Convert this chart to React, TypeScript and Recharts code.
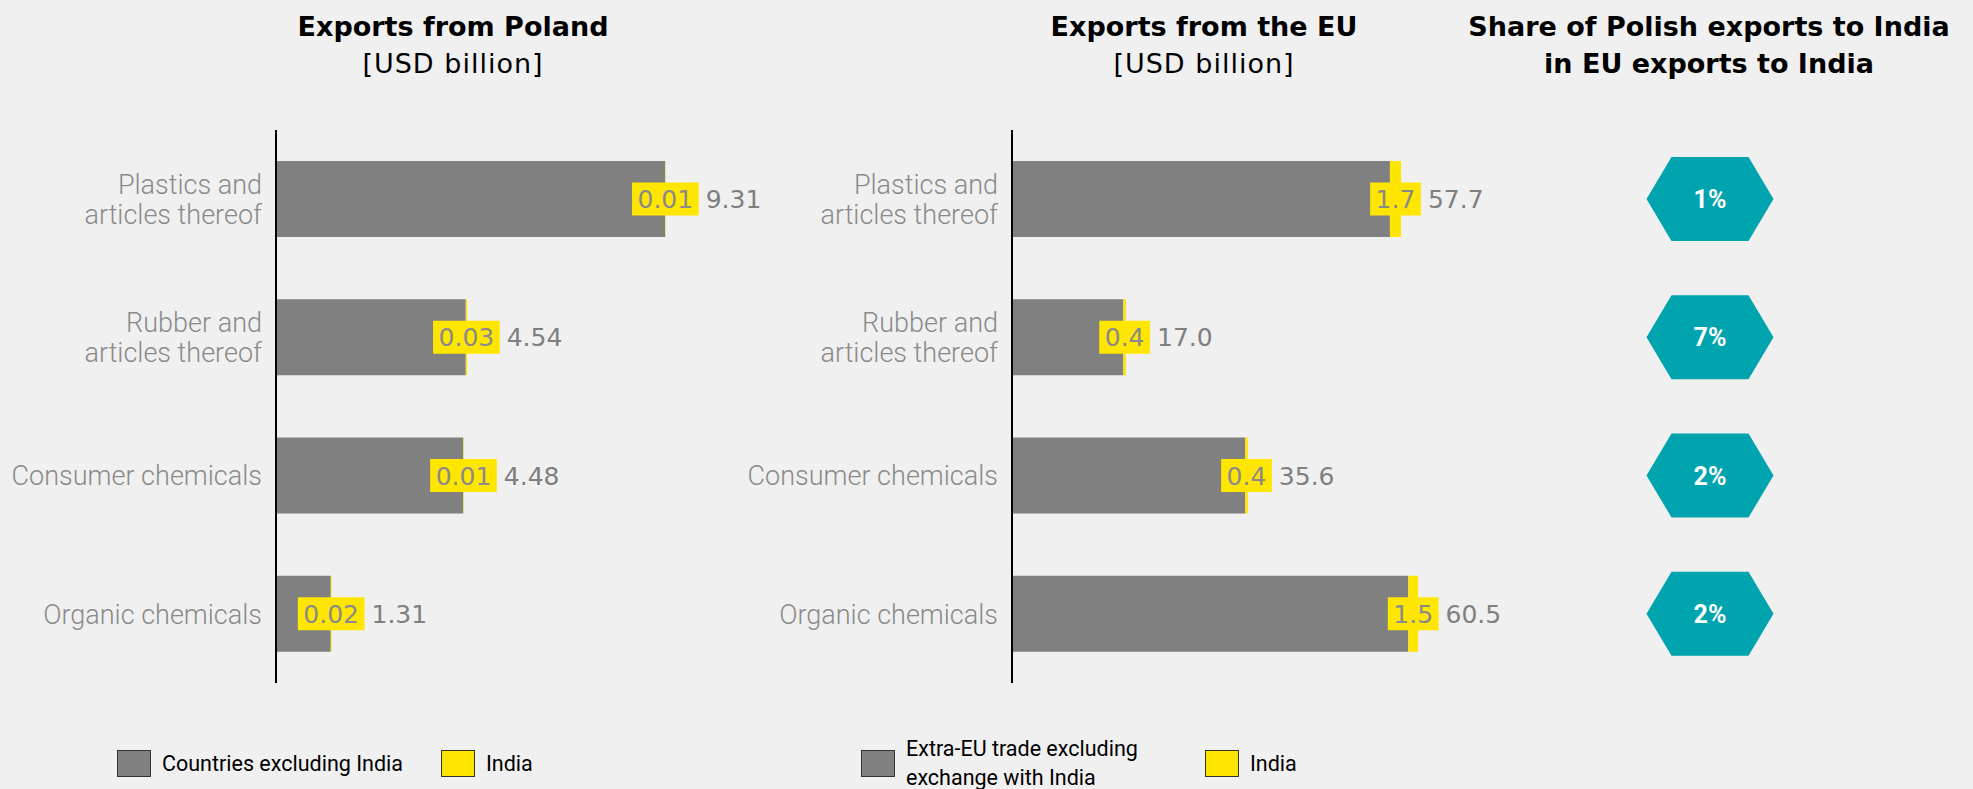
import { BarChart, Bar, XAxis, YAxis } from "recharts";

const categories = [
  "Plastics and\narticles thereof",
  "Rubber and\narticles thereof",
  "Consumer chemicals",
  "Organic chemicals"
];

const polandOther = [9.31, 4.54, 4.48, 1.31];
const polandIndia = [0.01, 0.03, 0.01, 0.02];
const euOther = [57.7, 17.0, 35.6, 60.5];
const euIndia = [1.7, 0.4, 0.4, 1.5];
const polishShare = [1, 7, 2, 2];

const GRAY = "#808080";
const YELLOW = "#FFE600";
const TEAL = "#00A4AE";
const BG = "#F0F0F0";

const polandRows = categories.map((cat, i) => ({ cat, other: polandOther[i], india: polandIndia[i] }));
const euRows = categories.map((cat, i) => ({ cat, other: euOther[i], india: euIndia[i] }));
const shareRows = categories.map((cat, i) => ({ cat, share: polishShare[i] }));

// rough DejaVu Sans advance widths, used to size the yellow label boxes
const textWidth = (s: string, fs: number) =>
  s.split("").reduce((w, ch) => w + (ch === "." ? 0.318 : 0.636), 0) * fs;

function CategoryTick(props: any) {
  const { x, y, payload } = props;
  const lines = String(payload.value).split("\n");
  const lh = 30;
  const start = -((lines.length - 1) * lh) / 2;
  return (
    <text x={x} y={y} textAnchor="end" fill="#8A8A8A" fontFamily="Roboto" fontSize={27} fontWeight={300}>
      {lines.map((l, i) => (
        <tspan key={i} x={x} y={y + start + i * lh} dy="0.36em">
          {l}
        </tspan>
      ))}
    </text>
  );
}

function indiaShape(rows: any[], decimals: number) {
  return (props: any) => {
    const { x, y, width, height, index } = props;
    const row = props.payload ?? rows[index];
    const fs = 25;
    const india = row.india.toFixed(decimals);
    const other = row.other.toFixed(decimals);
    const cx = x + width / 2;
    const cy = y + height / 2;
    const boxW = textWidth(india, fs) + 11;
    const boxH = 33;
    const boxR = cx + boxW / 2;
    return (
      <g>
        <rect x={x} y={y} width={Math.max(width, 0)} height={height} fill={YELLOW} />
        <rect x={cx - boxW / 2} y={cy - boxH / 2} width={boxW} height={boxH} fill={YELLOW} />
        <text x={cx} y={cy + fs * 0.36} textAnchor="middle" fill="#8A8A8A" fontFamily="DejaVu Sans" fontSize={fs}>
          {india}
        </text>
        <text x={boxR + 7} y={cy + fs * 0.36} textAnchor="start" fill="#7F7F7F" fontFamily="DejaVu Sans" fontSize={fs}>
          {other}
        </text>
      </g>
    );
  };
}

function HexShape(props: any) {
  const { y, height, payload, background } = props;
  const cx = background ? background.x + background.width / 2 : 190;
  const cy = background ? background.y + background.height / 2 : y + height / 2;
  const hw = 63.5;
  const hh = 42;
  const inset = 25;
  const pts = [
    [cx - hw, cy],
    [cx - hw + inset, cy - hh],
    [cx + hw - inset, cy - hh],
    [cx + hw, cy],
    [cx + hw - inset, cy + hh],
    [cx - hw + inset, cy + hh]
  ]
    .map((p) => p.join(","))
    .join(" ");
  return (
    <g>
      <polygon points={pts} fill={TEAL} />
      <text x={cx} y={cy + 9} textAnchor="middle" fill="#fff" fontFamily="Roboto" fontWeight={700} fontSize={25}>
        {payload.share}%
      </text>
    </g>
  );
}

const titleStyle: React.CSSProperties = {
  position: "absolute",
  top: 8,
  width: 600,
  textAlign: "center",
  fontFamily: "DejaVu Sans",
  fontSize: 27,
  lineHeight: "37px",
  color: "#000"
};

function Title({ cx, lines }: { cx: number; lines: [string, boolean][] }) {
  return (
    <div style={{ ...titleStyle, left: cx - 300 }}>
      {lines.map(([t, bold], i) => (
        <div key={i} style={{ fontWeight: bold ? 700 : 400, letterSpacing: bold ? 0 : 1 }}>
          {t}
        </div>
      ))}
    </div>
  );
}

function Swatch({ left, color, label, top = 750 }: { left: number; color: string; label: string[]; top?: number }) {
  return (
    <>
      <div
        style={{
          position: "absolute",
          left,
          top,
          width: 32,
          height: 25,
          background: color,
          border: "1.5px solid #333"
        }}
      />
      <div
        style={{
          position: "absolute",
          left: left + 45,
          top: top + 13 - (label.length * 29) / 2,
          fontFamily: "Roboto",
          fontSize: 21.5,
          lineHeight: "29px",
          color: "#000",
          whiteSpace: "nowrap"
        }}
      >
        {label.map((l, i) => (
          <div key={i}>{l}</div>
        ))}
      </div>
    </>
  );
}

function Panel({ rows, left, axisWidth, max, plotWidth, decimals }: any) {
  const width = 800;
  return (
    <div style={{ position: "absolute", left, top: 0 }}>
      <BarChart
        layout="vertical"
        width={width}
        height={789}
        data={rows}
        margin={{ top: 130, bottom: 106, left: 0, right: width - axisWidth - plotWidth }}
      >
        <XAxis type="number" hide domain={[0, max]} />
        <YAxis
          type="category"
          dataKey="cat"
          width={axisWidth}
          tickSize={0}
          tickMargin={14}
          tickLine={false}
          axisLine={{ stroke: "#000", strokeWidth: 2 }}
          tick={<CategoryTick />}
          interval={0}
        />
        <Bar dataKey="other" stackId="s" fill={GRAY} barSize={76} isAnimationActive={false} />
        <Bar dataKey="india" stackId="s" fill={YELLOW} barSize={76} isAnimationActive={false} shape={indiaShape(rows, decimals)} />
      </BarChart>
    </div>
  );
}

export default function App() {
  return (
    <div style={{ position: "absolute", left: 0, top: 0, width: 1973, height: 789, background: BG, overflow: "hidden" }}>
      <Title cx={453} lines={[["Exports from Poland", true], ["[USD billion]", false]]} />
      <Title cx={1204} lines={[["Exports from the EU", true], ["[USD billion]", false]]} />
      <Title cx={1709} lines={[["Share of Polish exports to India", true], ["in EU exports to India", true]]} />

      <Panel rows={polandRows} left={0} axisWidth={276} max={10} plotWidth={418} decimals={2} />
      <Panel rows={euRows} left={720} axisWidth={292} max={70} plotWidth={458.5} decimals={1} />

      <div style={{ position: "absolute", left: 1520, top: 0 }}>
        <BarChart layout="vertical" width={380} height={789} data={shareRows} margin={{ top: 130, bottom: 106, left: 0, right: 0 }}>
          <XAxis type="number" hide domain={[0, 100]} />
          <YAxis type="category" dataKey="cat" hide />
          <Bar dataKey="share" barSize={76} isAnimationActive={false} shape={HexShape} />
        </BarChart>
      </div>

      <Swatch left={117} color={GRAY} label={["Countries excluding India"]} />
      <Swatch left={441} color={YELLOW} label={["India"]} />
      <Swatch left={861} color={GRAY} label={["Extra-EU trade excluding", "exchange with India"]} />
      <Swatch left={1205} color={YELLOW} label={["India"]} />
    </div>
  );
}
